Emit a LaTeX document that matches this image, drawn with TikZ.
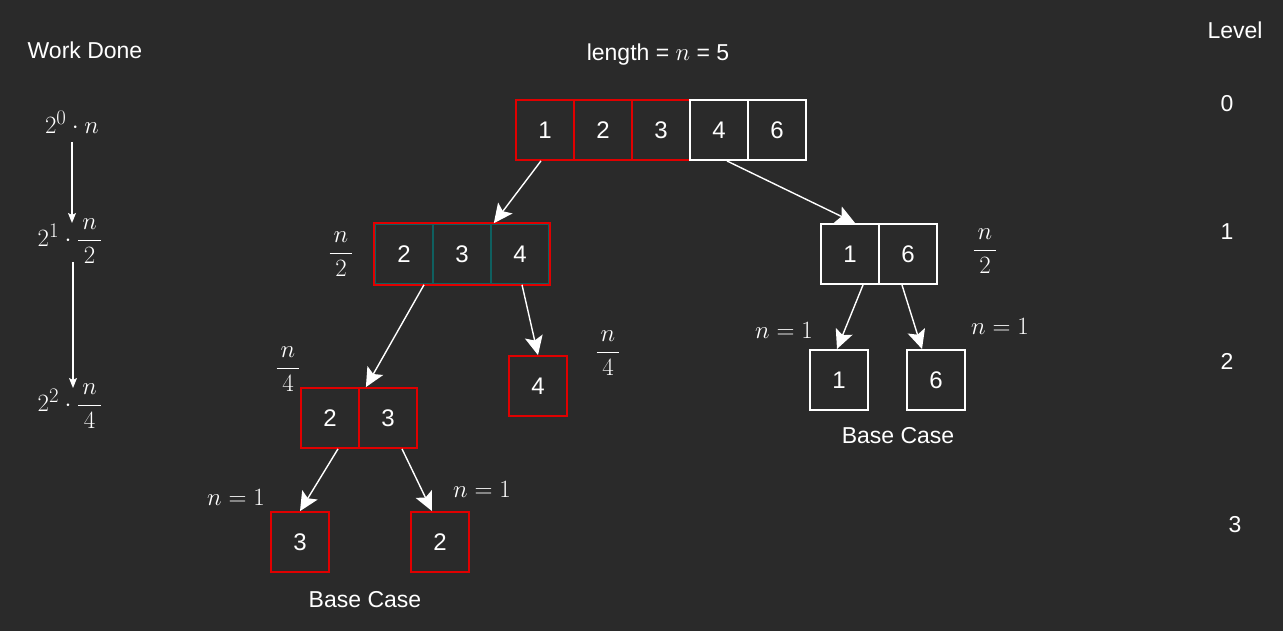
\documentclass[tikz,border=0pt]{standalone}
\usepackage{fontspec}
\setmainfont{Liberation Sans}
\usetikzlibrary{arrows.meta}
\definecolor{bg}{HTML}{2A2A2A}
\definecolor{myred}{HTML}{E00000}
\definecolor{myteal}{HTML}{0F6060}
\begin{document}
\begin{tikzpicture}[x=1pt,y=-1pt,
  cell/.style={draw, minimum width=58pt, minimum height=60pt, inner sep=0pt, text=white,
    font=\fontsize{24}{28}\selectfont},
  redcell/.style={cell, draw=myred, line width=1.8pt},
  whitecell/.style={cell, draw=white, line width=2pt},
  tealcell/.style={cell, draw=myteal, line width=1.6pt},
  lbl/.style={text=white, font=\fontsize{23}{27}\selectfont, inner sep=0pt},
  mth/.style={text=white, font=\fontsize{27}{31}\selectfont, inner sep=0pt},
  frc/.style={text=white, font=\fontsize{29}{33}\selectfont, inner sep=0pt},
  tarrow/.style={draw=white, line width=1.4pt, -{Stealth[length=19pt,width=18pt,inset=4pt]}},
  warrow/.style={draw=white, line width=1.2pt, -{Stealth[length=10pt,width=8pt,inset=2pt]}}
]
\fill[bg] (0,0) rectangle (1283,631);
\useasboundingbox (0,0) rectangle (1283,631);

% headings
\node[lbl] (work) at (85,50) {Work Done};
\node[lbl] (level) at (1235,30) {Level};
\node[lbl] (lv0) at (1227,104) {0};
\node[lbl] (lv1) at (1227,232) {1};
\node[lbl] (lv2) at (1227,361) {2};
\node[lbl] (lv3) at (1235,525) {3};
\node[lbl] (len) at (658,55) {length = \fontsize{27}{31}\selectfont$n$\fontsize{23}{27}\selectfont{} = 5};

% top array
\node[redcell] (t1) at (545,130) {1};
\node[redcell] (t2) at (603,130) {2};
\node[redcell] (t3) at (661,130) {3};
\node[whitecell] (t4) at (719,130) {4};
\node[whitecell] (t6) at (777,130) {6};

% level 1 left
\node[tealcell] (l2) at (404,254) {2};
\node[tealcell] (l3) at (462,254) {3};
\node[tealcell] (l4) at (520,254) {4};
\draw[myred, line width=1.8pt] (l2.north west) rectangle (l4.south east);

% level 1 right
\node[whitecell] (r1) at (850,254) {1};
\node[whitecell] (r6) at (908,254) {6};

% level 2
\node[redcell] (m2) at (330,418) {2};
\node[redcell] (m3) at (388,418) {3};
\node[redcell] (f4) at (538,386) {4};
\node[whitecell] (b1) at (839,380) {1};
\node[whitecell] (b6) at (936,380) {6};

% level 3
\node[redcell] (b3) at (300,542) {3};
\node[redcell] (b2) at (440,542) {2};

\node[lbl] (bcl) at (365,600) {Base Case};
\node[lbl] (bcr) at (898,436) {Base Case};

% math labels
\node[frc] (fl2) at (341,254) {$\displaystyle\frac{\,n\,}{\,2\,}$};
\node[frc] (fr2) at (985,251) {$\displaystyle\frac{\,n\,}{\,2\,}$};
\node[frc] (fl4) at (288,369) {$\displaystyle\frac{\,n\,}{\,4\,}$};
\node[frc] (fm4) at (608,353) {$\displaystyle\frac{\,n\,}{\,4\,}$};
\node[mth] (n1a) at (784,330) {$n=1$};
\node[mth] (n1b) at (1000,326) {$n=1$};
\node[mth] (n1c) at (236,497) {$n=1$};
\node[mth] (n1d) at (482,489) {$n=1$};

% work done
\node[frc] (w0) at (72,122) {$2^0\cdot n$};
\node[frc] (w1) at (70,241) {$2^1\cdot\displaystyle\frac{\,n\,}{\,2\,}$};
\node[frc] (w2) at (70,406) {$2^2\cdot\displaystyle\frac{\,n\,}{\,4\,}$};
\draw[warrow] (72,142) -- (72,223);
\draw[warrow] (73,262) -- (73,388);

% tree arrows
\draw[tarrow] ([xshift=-4pt]t1.south) -- ([xshift=2pt]l3.north east);
\draw[tarrow] ([xshift=8pt]t4.south) -- ([xshift=5pt]r1.north);
\draw[tarrow] ([xshift=20pt]l2.south) -- ([xshift=6pt]m2.north east);
\draw[tarrow] ([xshift=2pt]l4.south) -- (f4.north);
\draw[tarrow] ([xshift=13pt]r1.south) -- ([xshift=-2pt]b1.north);
\draw[tarrow] ([xshift=-6pt]r6.south) -- ([xshift=-14pt]b6.north);
\draw[tarrow] ([xshift=8pt]m2.south) -- (b3.north);
\draw[tarrow] ([xshift=14pt]m3.south) -- ([xshift=-8pt]b2.north);
\end{tikzpicture}
\end{document}
